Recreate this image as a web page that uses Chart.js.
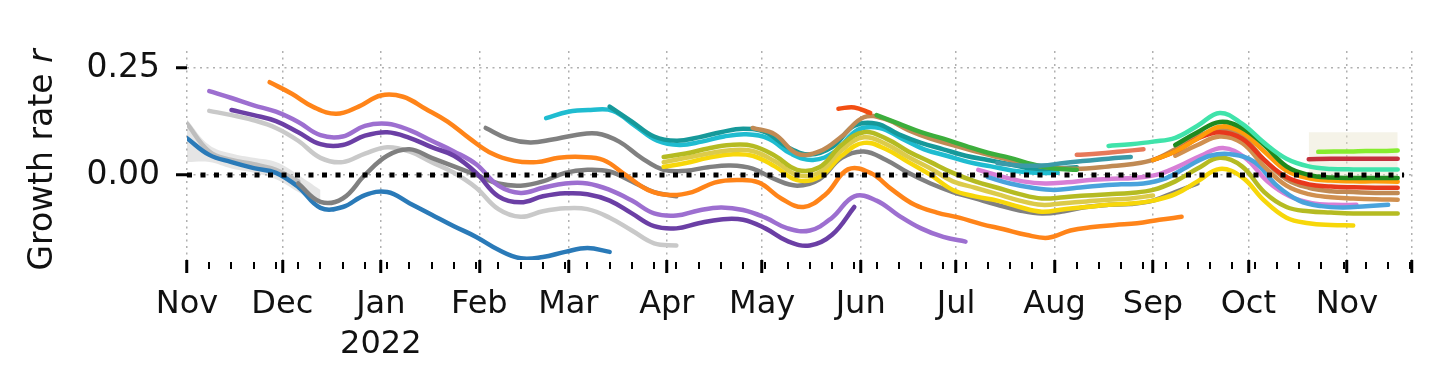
<!DOCTYPE html>
<html>
<head>
<meta charset="utf-8">
<script src="https://cdn.jsdelivr.net/npm/chart.js@4.4.1/dist/chart.umd.min.js"></script>
<style>
  html, body { margin: 0; padding: 0; background: #fff; }
  #wrap { width: 1444px; height: 366px; }
</style>
</head>
<body>
<div id="wrap"><canvas id="chart" width="1444" height="366"></canvas></div>
<script>
// x values are days since 1 Nov 2021
const monthDays = [0, 30, 61, 92, 120, 151, 181, 212, 242, 273, 304, 334, 365];
const monthLabels = ['Nov', 'Dec', ['Jan', '2022'], 'Feb', 'Mar', 'Apr', 'May', 'Jun', 'Jul', 'Aug', 'Sep', 'Oct', 'Nov'];
const yTicks = [0, 0.25];
const xEnd = 385.5;

// growth rate r for each curve, one value every `step` days from `start`
const blue = [0.086, 0.047, 0.03, 0.016, 0.005, -0.028, -0.077, -0.075, -0.047, -0.04, -0.066, -0.093, -0.12, -0.145, -0.175, -0.195, -0.192, -0.18, -0.171, -0.18];
const grayNov = [0.12, 0.055, 0.035, 0.025, 0.012, -0.015];
const grayNovUpper = [0.13, 0.07, 0.05, 0.04, 0.03, 0.0, -0.035];
const grayNovLower = [0.03, 0.03, 0.015, 0.005, -0.01, -0.04, -0.07];
const grayLight = [0.15, 0.14, 0.128, 0.11, 0.08, 0.04, 0.03, 0.05, 0.065, 0.055, 0.03, 0.005, -0.03, -0.08, -0.098, -0.085, -0.078, -0.08, -0.1, -0.13, -0.16, -0.165];
const purpleLight = [0.196, 0.18, 0.163, 0.148, 0.124, 0.093, 0.09, 0.115, 0.12, 0.105, 0.08, 0.055, 0.025, -0.025, -0.042, -0.03, -0.02, -0.02, -0.035, -0.06, -0.09, -0.095, -0.083, -0.076, -0.082, -0.1, -0.125, -0.13, -0.1, -0.05, -0.06, -0.095, -0.125, -0.145, -0.156];
const purpleDark = [0.152, 0.14, 0.126, 0.1, 0.072, 0.07, 0.092, 0.1, 0.087, 0.065, 0.045, 0.005, -0.05, -0.064, -0.05, -0.043, -0.045, -0.06, -0.09, -0.12, -0.125, -0.113, -0.104, -0.105, -0.125, -0.155, -0.165, -0.14, -0.075];
const grayDec = [-0.02, -0.063, -0.055, 0.0, 0.045, 0.06, 0.04, 0.02, 0.0, -0.02, -0.025, -0.015, 0.005, 0.012, 0.008, -0.015, -0.04, -0.05];
const orange = [0.217, 0.19, 0.158, 0.143, 0.16, 0.186, 0.183, 0.155, 0.125, 0.085, 0.05, 0.033, 0.03, 0.04, 0.042, 0.035, 0.0, -0.035, -0.047, -0.04, -0.018, -0.012, -0.018, -0.055, -0.075, -0.045, 0.013, 0.005, -0.035, -0.07, -0.088, -0.1, -0.115, -0.127, -0.14, -0.147, -0.13, -0.122, -0.117, -0.113, -0.105, -0.098];
const grayFeb = [0.11, 0.085, 0.076, 0.083, 0.093, 0.097, 0.078, 0.04, 0.012, 0.01, 0.018, 0.022, 0.015, -0.01, -0.025, -0.01, 0.04, 0.055, 0.035, 0.005, -0.02, -0.04, -0.055, -0.07, -0.083, -0.09, -0.085, -0.075, -0.07, -0.068, -0.06, -0.04, -0.02];
const cyan = [0.133, 0.148, 0.152, 0.15, 0.115, 0.08, 0.07, 0.078, 0.09, 0.095, 0.085, 0.05, 0.035, 0.055, 0.105, 0.11, 0.085, 0.06, 0.045, 0.03, 0.02, 0.01, 0.005, 0.005];
const teal = [0.16, 0.125, 0.09, 0.08, 0.088, 0.1, 0.108, 0.1, 0.065, 0.048, 0.065, 0.115, 0.12, 0.095, 0.075, 0.06, 0.045, 0.035, 0.025, 0.015, 0.015, 0.018];
const olive = [0.042, 0.05, 0.062, 0.07, 0.068, 0.045, 0.012, 0.018, 0.07, 0.1, 0.085, 0.055, 0.03, 0.005, -0.015, -0.03, -0.045, -0.055, -0.052, -0.048, -0.045, -0.042, -0.035, -0.015, 0.015, 0.04, 0.02, -0.04, -0.075, -0.085, -0.088, -0.09, -0.09, -0.09];
const khaki = [0.03, 0.04, 0.05, 0.058, 0.056, 0.032, 0.0, 0.006, 0.058, 0.088, 0.072, 0.042, 0.015, -0.015, -0.03, -0.045, -0.06, -0.07, -0.066, -0.062, -0.058, -0.055, -0.048];
const yellow = [0.019, 0.028, 0.04, 0.048, 0.045, 0.02, -0.012, -0.005, 0.045, 0.075, 0.06, 0.03, 0.0, -0.035, -0.05, -0.06, -0.075, -0.086, -0.08, -0.075, -0.07, -0.067, -0.06, -0.045, -0.015, 0.014, -0.005, -0.06, -0.1, -0.113, -0.117, -0.118];
const brown = [0.11, 0.095, 0.05, 0.055, 0.09, 0.135, 0.13, 0.105, 0.085, 0.07, 0.055, 0.042, 0.03, 0.02, 0.015, 0.015, 0.02, 0.025, 0.035, 0.06, 0.09, 0.105, 0.09, 0.035, -0.01, -0.03, -0.038, -0.04, -0.042, -0.042];
const redOrange = [0.155, 0.158, 0.145];
const green = [0.14, 0.12, 0.1, 0.085, 0.068, 0.052, 0.04, 0.025, 0.015, 0.012];
const magenta = [0.012, -0.003, -0.015, -0.02, -0.017, -0.012, -0.009, -0.007, 0.0, 0.02, 0.045, 0.063, 0.04, -0.015, -0.05, -0.066, -0.07, -0.07];
const skyBlue = [-0.005, -0.02, -0.03, -0.035, -0.03, -0.025, -0.022, -0.02, -0.008, 0.02, 0.045, 0.048, 0.03, -0.025, -0.06, -0.073, -0.076, -0.073, -0.07];
const steelTeal = [0.028, 0.022, 0.022, 0.028, 0.033, 0.038, 0.042];
const coral = [0.047, 0.05, 0.055, 0.06];
const seafoam = [0.068, 0.072, 0.078, 0.087, 0.115, 0.145, 0.12, 0.075, 0.038, 0.02, 0.014, 0.013, 0.013, 0.013];
const orangeBright = [0.035, 0.055, 0.085, 0.113, 0.1, 0.055, 0.01, -0.008, -0.013, -0.015, -0.015, -0.016];
const red = [0.035, 0.055, 0.085, 0.1, 0.085, 0.035, -0.005, -0.022, -0.027, -0.029, -0.03, -0.03];
const peru = [0.045, 0.07, 0.09, 0.075, 0.02, -0.025, -0.045, -0.052, -0.055, -0.057, -0.058];
const darkGreen = [0.07, 0.1, 0.124, 0.11, 0.07, 0.02, 0.0, -0.006, -0.007, -0.007, -0.007];
const darkRed = [0.037, 0.038, 0.038, 0.038, 0.038];
const lime = [0.054, 0.055, 0.055, 0.056, 0.056, 0.057];
const limeUpper = [0.1, 0.1, 0.1, 0.1, 0.1];
const limeLower = [-0.03, -0.03, -0.03, -0.03, -0.03];

// [first day, step in days]
const spans = {
  blue: [0, 7], grayNov: [0, 7], grayNovUpper: [0, 7], grayNovLower: [0, 7],
  grayLight: [7, 7], purpleLight: [7, 7], purpleDark: [14, 7], grayDec: [35, 7],
  orange: [26, 7], grayFeb: [94, 7], cyan: [113, 7], teal: [133, 7],
  olive: [150, 7], khaki: [150, 7], yellow: [150, 7], brown: [178, 7],
  redOrange: [205, 5], green: [217, 7], magenta: [249, 7], skyBlue: [252, 7],
  steelTeal: [255, 7], coral: [280, 7], seafoam: [290, 7], orangeBright: [304, 7],
  red: [304, 7], peru: [311, 7], darkGreen: [311, 7], darkRed: [353, 7],
  lime: [356, 5], limeUpper: [353, 7], limeLower: [353, 7]
};
const seriesData = {
  blue, grayNov, grayNovUpper, grayNovLower, grayLight, purpleLight, purpleDark, grayDec,
  orange, grayFeb, cyan, teal, olive, khaki, yellow, brown, redOrange, green, magenta,
  skyBlue, steelTeal, coral, seafoam, orangeBright, red, peru, darkGreen, darkRed,
  lime, limeUpper, limeLower
};

// drawn bottom to top
const lineColors = [
  ['grayNov', '#bdbdbd'], ['grayLight', '#c9c9c9'], ['blue', '#2a7ab8'],
  ['grayDec', '#808080'], ['purpleLight', '#9d6fd0'], ['purpleDark', '#6b3fa5'],
  ['orange', '#ff8419'], ['grayFeb', '#808080'], ['cyan', '#1fbcd0'], ['teal', '#16999a'],
  ['yellow', '#f7d70a'], ['khaki', '#dccb4a'], ['olive', '#b5bb22'], ['brown', '#c08a54'],
  ['redOrange', '#f24e12'], ['green', '#3cae3c'], ['magenta', '#d77fd6'], ['skyBlue', '#4aa3dc'],
  ['steelTeal', '#3b9aa8'], ['coral', '#e7795a'], ['peru', '#d09050'], ['red', '#e8381c'],
  ['orangeBright', '#ff9c0a'], ['darkGreen', '#1f8a1f'], ['seafoam', '#40e3aa'],
  ['darkRed', '#c3313c'], ['lime', '#86ec2e']
];

function points(name) {
  var s = spans[name];
  return seriesData[name].map(function(v, i) {
    return { x: s[0] + i * s[1], y: v };
  });
}

var datasets = [];
// zero line on top of everything
datasets.push({
  data: [{ x: 0, y: 0 }, { x: 383, y: 0 }],
  borderColor: '#000', borderWidth: 5, borderDash: [5, 8.5], tension: 0, fill: false
});
lineColors.slice().reverse().forEach(function(lc) {
  datasets.push({
    data: points(lc[0]),
    borderColor: lc[1], borderWidth: 4.5, fill: false,
    tension: 0.4, borderCapStyle: 'round', borderJoinStyle: 'round'
  });
});
// faint uncertainty bands, below the lines
function band(upper, lower, color) {
  var i = datasets.length;
  datasets.push({ data: points(upper), borderWidth: 0, borderColor: 'rgba(0,0,0,0)', fill: false, tension: 0.4 });
  datasets.push({ data: points(lower), borderWidth: 0, borderColor: 'rgba(0,0,0,0)', backgroundColor: color, fill: i, tension: 0.4 });
}
band('limeUpper', 'limeLower', 'rgba(232,228,205,0.45)');
band('grayNovUpper', 'grayNovLower', 'rgba(160,160,160,0.28)');

const minorTicks = {
  id: 'minorTicks',
  afterDraw: function(chart) {
    var ctx = chart.ctx, xs = chart.scales.x, bottom = chart.chartArea.bottom;
    ctx.save();
    ctx.strokeStyle = '#000';
    ctx.lineWidth = 2;
    for (var d = 0; d <= xEnd; d += 7) {
      var px = Math.round(xs.getPixelForValue(d));
      ctx.beginPath();
      ctx.moveTo(px, bottom + 2);
      ctx.lineTo(px, bottom + 9);
      ctx.stroke();
    }
    ctx.restore();
  }
};

// y axis title with an italic r
const yTitle = {
  id: 'yTitle',
  afterDraw: function(chart) {
    var ctx = chart.ctx;
    var a = 'Growth rate ', b = 'r';
    ctx.save();
    ctx.translate(43, 160);
    ctx.rotate(-Math.PI / 2);
    ctx.fillStyle = '#111';
    ctx.textBaseline = 'middle';
    ctx.font = '33px "DejaVu Sans"';
    var wa = ctx.measureText(a).width;
    ctx.font = 'italic 33px "DejaVu Sans"';
    var wb = ctx.measureText(b).width;
    var x0 = -(wa + wb) / 2;
    ctx.font = '33px "DejaVu Sans"';
    ctx.fillText(a, x0, 0);
    ctx.font = 'italic 33px "DejaVu Sans"';
    ctx.fillText(b, x0 + wa, 0);
    ctx.restore();
  }
};

new Chart(document.getElementById('chart'), {
  type: 'line',
  data: { datasets: datasets },
  plugins: [minorTicks, yTitle],
  options: {
    responsive: false,
    animation: false,
    layout: { padding: { top: 51, right: 32, left: 0, bottom: 0 } },
    elements: { point: { radius: 0 } },
    plugins: { legend: { display: false }, tooltip: { enabled: false } },
    scales: {
      x: {
        type: 'linear', min: 0, max: xEnd,
        afterFit: function(scale) { scale.height = 106; },
        afterBuildTicks: function(scale) {
          scale.ticks = monthDays.concat([xEnd]).map(function(v) { return { value: v }; });
        },
        ticks: {
          autoSkip: false, maxRotation: 0, padding: 12,
          color: '#111',
          font: { family: 'DejaVu Sans', size: 32, lineHeight: 1.25 },
          callback: function(value) {
            var i = monthDays.indexOf(value);
            return i >= 0 ? monthLabels[i] : '';
          }
        },
        grid: {
          color: '#b0b0b0', lineWidth: 1.5,
          tickLength: 13, tickColor: '#000', tickWidth: 3
        },
        border: { display: false, dash: [2, 4.5] }
      },
      y: {
        min: -0.199, max: 0.29,
        afterFit: function(scale) { scale.width = 187; },
        afterBuildTicks: function(scale) {
          scale.ticks = yTicks.map(function(v) { return { value: v }; });
        },
        ticks: {
          padding: 16, color: '#111',
          font: { family: 'DejaVu Sans', size: 33 },
          callback: function(value) { return value.toFixed(2); }
        },
        grid: {
          color: '#b0b0b0', lineWidth: 1.5,
          tickLength: 11, tickColor: '#000', tickWidth: 3
        },
        border: { display: false, dash: [2, 4.5] }
      }
    }
  }
});
</script>
</body>
</html>
